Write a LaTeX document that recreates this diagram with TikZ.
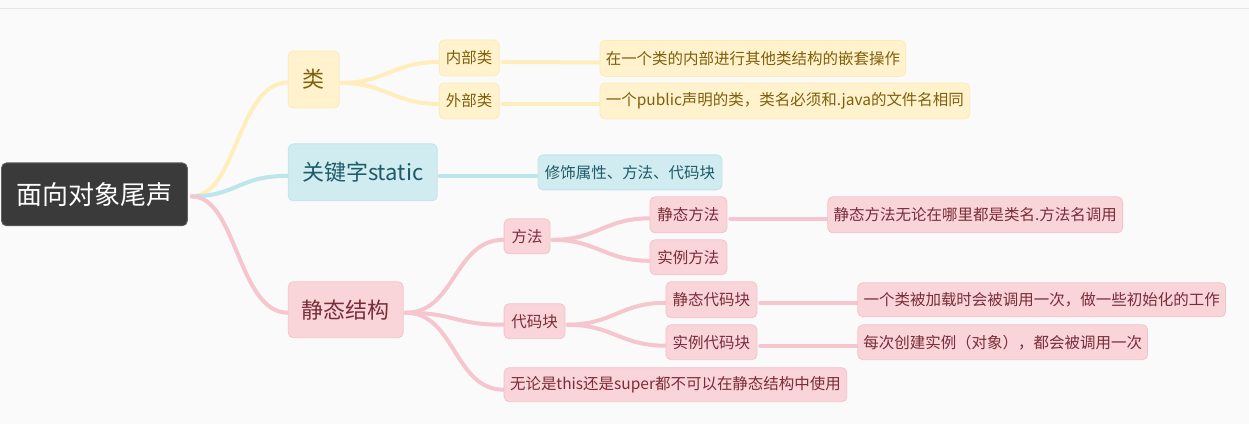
\documentclass[tikz,border=0pt]{standalone}
\usepackage{fontspec}
\setmainfont{Noto Sans CJK SC}
\usetikzlibrary{calc}
\pgfdeclarelayer{bg}
\pgfdeclarelayer{paper}
\pgfsetlayers{paper,bg,main}
\definecolor{bgc}{HTML}{FAFAFA}
\definecolor{topline}{HTML}{E6E6E6}
\definecolor{rootc}{HTML}{3A3A3A}
\definecolor{yfill}{HTML}{FFF2CC}
\definecolor{ydraw}{HTML}{FDEAB8}
\definecolor{yline}{HTML}{FFEEBC}
\definecolor{ytext}{HTML}{7F5F0C}
\definecolor{bfill}{HTML}{D0ECF1}
\definecolor{bdraw}{HTML}{BFE3EA}
\definecolor{bline}{HTML}{BDE5EC}
\definecolor{btext}{HTML}{1D5B67}
\definecolor{pfill}{HTML}{F9D5DA}
\definecolor{pdraw}{HTML}{F4C3CA}
\definecolor{pline}{HTML}{F5C6CD}
\definecolor{ptext}{HTML}{7A2C37}
\tikzset{
  box/.style={rectangle, rounded corners=5pt, inner sep=0pt, line width=0.8pt},
  rootbox/.style={box, fill=rootc, draw=rootc!80!white, text=white, font=\fontsize{26}{30}\selectfont},
  ybox/.style={box, fill=yfill, draw=ydraw, text=ytext},
  bbox/.style={box, fill=bfill, draw=bdraw, text=btext},
  pbox/.style={box, fill=pfill, draw=pdraw, text=ptext},
  big/.style={font=\fontsize{22}{26}\selectfont},
  small/.style={font=\fontsize{15.5}{18}\selectfont},
  conn/.style={line width=4pt, line cap=round},
  yconn/.style={conn, draw=yline},
  bconn/.style={conn, draw=bline},
  pconn/.style={conn, draw=pline},
}
\begin{document}
\begin{tikzpicture}[x=1pt,y=-1pt]
\begin{pgfonlayer}{paper}
\fill[bgc] (0,0) rectangle (1249,424);
\draw[topline, line width=1pt] (0,9) -- (1249,9);
\end{pgfonlayer}
\useasboundingbox (0,0) rectangle (1249,424);

\node[rootbox, minimum width=186pt, minimum height=63pt] (root) at (94,194.5) {面向对象尾声};

\node[ybox, big, minimum width=51pt, minimum height=57pt] (lei) at (313.5,79.5) {类};
\node[bbox, big, minimum width=149pt, minimum height=57pt] (kw) at (362.5,172.5) {关键字static};
\node[pbox, big, minimum width=115pt, minimum height=56pt] (jt) at (345.5,310) {静态结构};

\node[ybox, small, minimum width=60pt, minimum height=36pt] (nb) at (469,58) {内部类};
\node[ybox, small, minimum width=60pt, minimum height=36pt] (wb) at (469,101) {外部类};
\node[ybox, small, minimum width=306pt, minimum height=36pt] (d1) at (753,58.5) {在一个类的内部进行其他类结构的嵌套操作};
\node[ybox, small, minimum width=370pt, minimum height=36pt] (d2) at (785,101) {一个public声明的类，类名必须和.java的文件名相同};

\node[bbox, small, minimum width=184pt, minimum height=35pt] (xs) at (630,172.5) {修饰属性、方法、代码块};

\node[pbox, small, minimum width=46pt, minimum height=35pt] (ff) at (527,236.5) {方法};
\node[pbox, small, minimum width=77pt, minimum height=36pt] (jf) at (688.5,215) {静态方法};
\node[pbox, small, minimum width=77pt, minimum height=35pt] (sf) at (688.5,257.5) {实例方法};
\node[pbox, small, minimum width=61pt, minimum height=35pt] (dm) at (534.5,321.5) {代码块};
\node[pbox, small, minimum width=91pt, minimum height=36pt] (jd) at (711.5,300) {静态代码块};
\node[pbox, small, minimum width=91pt, minimum height=35pt] (sd) at (711.5,342.5) {实例代码块};
\node[pbox, small, minimum width=343pt, minimum height=34pt] (wl) at (675.5,385) {无论是this还是super都不可以在静态结构中使用};
\node[pbox, small, minimum width=295pt, minimum height=36pt] (d3) at (975.5,215) {静态方法无论在哪里都是类名.方法名调用};
\node[pbox, small, minimum width=368pt, minimum height=34pt] (d4) at (1042,300) {一个类被加载时会被调用一次，做一些初始化的工作};
\node[pbox, small, minimum width=290pt, minimum height=35pt] (d5) at (1003,342.5) {每次创建实例（对象），都会被调用一次};

\begin{pgfonlayer}{bg}
\coordinate (rs) at ($(root.east)+(4,2)$);
% root branches
\draw[yconn] (rs) .. controls ($(rs)+(45,0)$) and ($(lei.west)+(-50,3)$) .. ($(lei.west)+(0,3)$);
\draw[bconn] (rs) .. controls ($(rs)+(45,0)$) and ($(kw.west)+(-50,3.5)$) .. ($(kw.west)+(0,3.5)$);
\draw[pconn] (rs) .. controls ($(rs)+(45,0)$) and ($(jt.west)+(-50,3)$) .. ($(jt.west)+(0,3)$);
% class branch
\draw[yconn] ($(lei.east)+(2,3.5)$) .. controls ($(lei.east)+(45,3.5)$) and ($(nb.west)+(-45,4)$) .. ($(nb.west)+(0,4)$);
\draw[yconn] ($(lei.east)+(2,3.5)$) .. controls ($(lei.east)+(45,3.5)$) and ($(wb.west)+(-45,3)$) .. ($(wb.west)+(0,3)$);
\draw[yconn] ($(nb.east)+(3,4)$) -- ($(d1.west)+(0,4)$);
\draw[yconn] ($(wb.east)+(3,3)$) -- ($(d2.west)+(0,3)$);
% keyword branch
\draw[bconn] ($(kw.east)+(2,3.5)$) -- ($(xs.west)+(0,3.5)$);
% static structure branch
\coordinate (js) at ($(jt.east)+(2,3)$);
\draw[pconn] (js) .. controls ($(js)+(50,0)$) and ($(ff.west)+(-50,3.5)$) .. ($(ff.west)+(0,3.5)$);
\draw[pconn] (js) .. controls ($(js)+(50,0)$) and ($(dm.west)+(-50,3.5)$) .. ($(dm.west)+(0,3.5)$);
\draw[pconn] (js) .. controls ($(js)+(50,0)$) and ($(wl.west)+(-50,5)$) .. ($(wl.west)+(0,5)$);
\coordinate (fs) at ($(ff.east)+(2,3.5)$);
\draw[pconn] (fs) .. controls ($(fs)+(45,0)$) and ($(jf.west)+(-45,3.5)$) .. ($(jf.west)+(0,3.5)$);
\draw[pconn] (fs) .. controls ($(fs)+(45,0)$) and ($(sf.west)+(-45,3.5)$) .. ($(sf.west)+(0,3.5)$);
\coordinate (ds) at ($(dm.east)+(2,3.5)$);
\draw[pconn] (ds) .. controls ($(ds)+(45,0)$) and ($(jd.west)+(-45,3)$) .. ($(jd.west)+(0,3)$);
\draw[pconn] (ds) .. controls ($(ds)+(45,0)$) and ($(sd.west)+(-45,3.5)$) .. ($(sd.west)+(0,3.5)$);
\draw[pconn] ($(jf.east)+(3,4)$) -- ($(d3.west)+(0,4)$);
\draw[pconn] ($(jd.east)+(3,3)$) -- ($(d4.west)+(0,3)$);
\draw[pconn] ($(sd.east)+(3,3.5)$) -- ($(d5.west)+(0,3.5)$);
\end{pgfonlayer}
\end{tikzpicture}
\end{document}
